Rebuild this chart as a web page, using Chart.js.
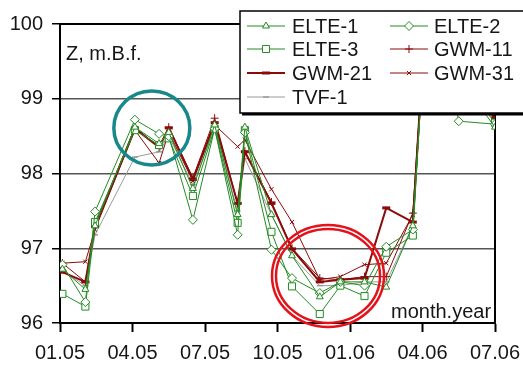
<!DOCTYPE html>
<html>
<head>
<meta charset="utf-8">
<script src="https://cdn.jsdelivr.net/npm/chart.js@4"></script>
<style>
  html, body { margin: 0; padding: 0; background: #fff; }
  #wrap { width: 523px; height: 369px; }
</style>
</head>
<body>
<div id="wrap"><canvas id="chart" width="523" height="369"></canvas></div>
<script>
// months since 01.2005
const months = [0.1, 1.05, 1.45, 3.1, 4.1, 4.5, 5.5, 6.4, 7.35, 7.65, 8.75, 9.6, 10.75, 11.6, 12.6, 13.5, 14.6, 14.95, 16.0, 16.5, 18.0];
const tickLabels = ['01.05', '04.05', '07.05', '10.05', '01.06', '04.06', '07.06'];

const elte1 = [96.72, 96.45, 97.30, 98.62, 98.40, 98.55, 97.80, 98.65, 97.45, 98.62, 97.45, 96.90, 96.35, 96.55, 96.55, 96.48, 97.30, 99.10, 99.50, null, 98.62];
const elte2 = [96.78, 96.28, 97.49, 98.72, 98.53, 98.50, 97.38, 98.60, 97.18, 98.55, 96.98, 96.60, 96.40, 96.55, 96.50, 97.02, 97.25, 99.10, 99.50, 98.70, 98.66];
const elte3 = [96.39, 96.22, 97.35, 98.58, 98.38, 98.47, 97.70, 98.60, 97.34, 98.58, 97.22, 96.49, 96.12, 96.50, 96.36, 96.94, 97.17, 99.10, 99.50, null, 98.68];
const gwm11 = [96.80, 96.55, 97.30, 98.62, 98.35, 98.62, 97.94, 98.74, 97.60, 98.30, 97.62, 97.00, 96.60, 96.58, 96.62, 96.62, 97.47, 99.20, 99.60, null, 98.72];
const gwm21 = [96.68, 96.55, 97.29, 98.60, 98.35, 98.61, 97.92, 98.68, 97.60, 98.29, 97.60, 96.99, 96.55, 96.58, 96.60, 97.54, 97.35, 99.20, 99.60, null, 98.74];
const gwm31 = [96.80, 96.82, 97.25, 98.58, 98.14, 98.55, 97.90, 98.65, 98.36, 98.45, 97.79, 97.35, 96.58, 96.62, 96.78, 96.80, 97.45, 99.20, 99.60, null, 98.75];
const tvf1  = [96.70, 96.50, 97.18, 98.22, 98.29, 98.50, 97.85, 98.60, 97.50, 98.20, 97.45, 96.90, 96.50, 96.50, 96.55, 96.55, 97.30, 99.10, 99.50, null, 98.70];

const green = '#238b23';
const brown = '#8b0a0a';
const gray = '#9a9a9a';
const FONT = 'Liberation Sans, Arial, sans-serif';

const pts = arr => arr.map((v, i) => ({ x: months[i], y: v }));

const series = [
  { label: 'ELTE-1', data: elte1, color: green, style: 'triangle', r: 4, lw: 1, pw: 1 },
  { label: 'ELTE-2', data: elte2, color: green, style: 'rectRot', r: 4.5, lw: 1, pw: 1 },
  { label: 'ELTE-3', data: elte3, color: green, style: 'rect', r: 5, lw: 1, pw: 1 },
  { label: 'GWM-11', data: gwm11, color: brown, style: 'cross', r: 4, lw: 1, pw: 1 },
  { label: 'GWM-21', data: gwm21, color: brown, style: 'line', r: 4, lw: 2, pw: 3 },
  { label: 'GWM-31', data: gwm31, color: brown, style: 'crossRot', r: 3, lw: 1, pw: 1 },
  { label: 'TVF-1', data: tvf1, color: gray, style: 'line', r: 3, lw: 1, pw: 1.5 }
];

const frame = {
  id: 'frame',
  beforeDatasetsDraw(chart) {
    const { ctx, chartArea: a } = chart;
    ctx.save();
    ctx.strokeStyle = '#000';
    ctx.lineWidth = 2;
    ctx.strokeRect(a.left, a.top, a.right - a.left, a.bottom - a.top);
    ctx.restore();
  },
  afterDatasetsDraw(chart) {
    const { ctx } = chart;
    const xs = chart.scales.x, ys = chart.scales.y;
    ctx.save();
    // teal circle
    ctx.strokeStyle = '#17898b';
    ctx.lineWidth = 3.5;
    ctx.beginPath();
    ctx.ellipse(xs.getPixelForValue(3.8), ys.getPixelForValue(98.61), 38, 37, 0, 0, Math.PI * 2);
    ctx.stroke();
    // red double ring
    const cx = xs.getPixelForValue(11.09), cy = ys.getPixelForValue(96.63);
    ctx.strokeStyle = '#e3121b';
    ctx.lineWidth = 2.5;
    ctx.beginPath();
    ctx.ellipse(cx, cy, 56, 51, 0, 0, Math.PI * 2);
    ctx.stroke();
    ctx.beginPath();
    ctx.ellipse(cx, cy, 52, 47, 0, 0, Math.PI * 2);
    ctx.stroke();
    ctx.restore();
  },
  afterDraw(chart) {
    const { ctx } = chart;
    ctx.save();
    ctx.fillStyle = '#161616';
    ctx.font = '20px ' + FONT;
    ctx.textBaseline = 'alphabetic';
    ctx.textAlign = 'left';
    ctx.fillText('Z, m.B.f.', 66, 60);
    ctx.fillText('month.year', 391, 318);

    // legend box
    const bx = 240, by = 11, bw = 290, bh = 102;
    ctx.fillStyle = '#fff';
    ctx.fillRect(bx, by, bw, bh);
    ctx.strokeStyle = '#000';
    ctx.lineWidth = 1.5;
    ctx.strokeRect(bx, by, bw, bh);
    ctx.fillStyle = '#000';
    ctx.fillRect(bx + 2, by + bh, bw, 2.5);

    const rows = [26, 49, 73, 97];
    const cols = [{ l: 247, t: 292 }, { l: 390, t: 434 }];
    series.forEach((s, i) => {
      const c = cols[i % 2], y = rows[Math.floor(i / 2)];
      ctx.strokeStyle = s.color;
      ctx.lineWidth = s.lw;
      ctx.beginPath();
      ctx.moveTo(c.l, y);
      ctx.lineTo(c.l + 38, y);
      ctx.stroke();
      ctx.fillStyle = '#fff';
      ctx.lineWidth = s.pw;
      Chart.helpers.drawPoint(ctx, {
        pointStyle: s.style, radius: s.r, borderWidth: s.pw
      }, c.l + 19, y);
      ctx.fillStyle = '#161616';
      ctx.textBaseline = 'middle';
      ctx.fillText(s.label, c.t, y + 1);
    });
    ctx.restore();
  }
};

const chart = new Chart(document.getElementById('chart'), {
  type: 'line',
  data: {
    datasets: series.map(s => ({
      label: s.label,
      data: pts(s.data),
      borderColor: s.color,
      backgroundColor: '#fff',
      borderWidth: s.lw,
      pointStyle: s.style,
      pointRadius: s.r,
      pointBorderWidth: s.pw,
      pointBorderColor: s.color,
      pointBackgroundColor: '#fff',
      spanGaps: true,
      tension: 0
    }))
  },
  options: {
    responsive: false,
    animation: false,
    layout: { padding: { top: 24, right: 28, left: 0, bottom: 0 } },
    plugins: { legend: { display: false }, tooltip: { enabled: false } },
    scales: {
      x: {
        type: 'linear',
        min: 0, max: 18,
        afterFit: s => { s.height = 46; s.paddingRight = 0; s.paddingLeft = 0; },
        ticks: {
          stepSize: 3,
          autoSkip: false,
          maxRotation: 0,
          padding: 9,
          color: '#161616',
          font: { family: FONT, size: 20 },
          callback: v => tickLabels[Math.round(v / 3)]
        },
        grid: { drawOnChartArea: false, drawTicks: true, tickLength: 9, tickColor: '#000', tickWidth: 2 },
        border: { color: '#000', width: 2 }
      },
      y: {
        min: 96, max: 100,
        afterFit: s => { s.width = 60; s.paddingTop = 0; s.paddingBottom = 0; },
        ticks: {
          stepSize: 1,
          padding: 9,
          color: '#161616',
          font: { family: FONT, size: 20 }
        },
        grid: { color: '#555', lineWidth: 1.5, tickLength: 8, tickColor: '#000' },
        border: { color: '#000', width: 2 }
      }
    }
  },
  plugins: [frame]
});
</script>
</body>
</html>
